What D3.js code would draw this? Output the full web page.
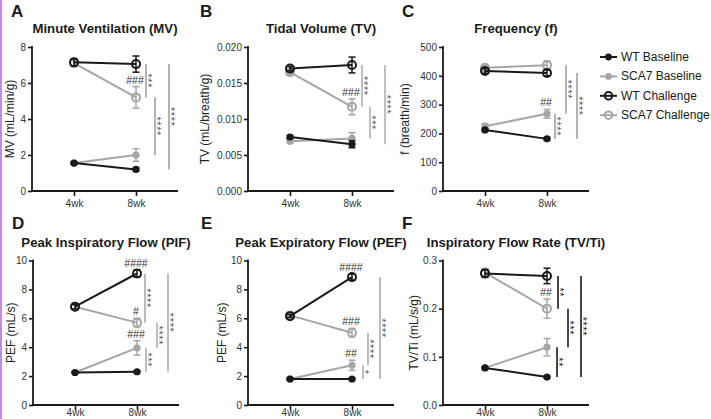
<!DOCTYPE html>
<html><head><meta charset="utf-8">
<script src="https://cdn.jsdelivr.net/npm/d3@7"></script>
<style>
body{margin:0;background:#fff;}
text{font-family:"Liberation Sans",Arial,sans-serif;}
</style></head><body>
<svg id="c" width="711" height="419"></svg>
<script>
const categories = ["4wk", "8wk"];
const seriesNames = ["WT Baseline", "SCA7 Baseline", "WT Challenge", "SCA7 Challenge"];
const seriesColors = ["#1a1a1a", "#a6a6a6", "#1a1a1a", "#a6a6a6"];
const seriesOpen = [false, false, true, true];

// A: Minute Ventilation
const mvMean = [[1.55, 1.2], [1.55, 2.0], [7.15, 7.05], [7.1, 5.2]];
const mvErr  = [[0.05, 0.08], [0.08, 0.35], [0.2, 0.45], [0.15, 0.6]];
const mvTicks = [0, 2, 4, 6, 8];
// B: Tidal Volume
const tvMean = [[0.0075, 0.0065], [0.0069, 0.0073], [0.0170, 0.0175], [0.0165, 0.0117]];
const tvErr  = [[0.0002, 0.0005], [0.0002, 0.0008], [0.0003, 0.0011], [0.0003, 0.0011]];
const tvTicks = [0, 0.005, 0.010, 0.015, 0.020];
// C: Frequency
const fMean = [[212, 181], [225, 268], [417, 410], [428, 437]];
const fErr  = [[5, 5], [8, 15], [8, 10], [8, 15]];
const fTicks = [0, 100, 200, 300, 400, 500];
// D: PIF
const pifMean = [[2.25, 2.3], [2.25, 3.95], [6.8, 9.1], [6.8, 5.7]];
const pifErr  = [[0.05, 0.08], [0.05, 0.5], [0.15, 0.25], [0.15, 0.3]];
const pifTicks = [0, 2, 4, 6, 8, 10];
// E: PEF
const pefMean = [[1.8, 1.8], [1.8, 2.75], [6.15, 8.85], [6.2, 5.0]];
const pefErr  = [[0.05, 0.05], [0.05, 0.35], [0.1, 0.2], [0.1, 0.3]];
const pefTicks = [0, 2, 4, 6, 8, 10];
// F: TV/Ti
const tvtiMean = [[0.077, 0.058], [0.077, 0.12], [0.273, 0.268], [0.275, 0.20]];
const tvtiErr  = [[0.002, 0.002], [0.002, 0.018], [0.008, 0.016], [0.008, 0.02]];
const tvtiTicks = [0, 0.1, 0.2, 0.3];

// significance brackets: [series from, series to, label] at 8wk
const mvSig   = [[2, 3, "***"], [3, 1, "****"], [2, 0, "****"]];
const tvSig   = [[2, 3, "****"], [3, 1, "***"], [2, 0, "****"]];
const fSig    = [[1, 0, "****"], [3, 1, "****"], [2, 0, "****"]];
const pifSig  = [[2, 3, "****"], [3, 1, "****"], [1, 0, "***"], [2, 0, "****"]];
const pefSig  = [[1, 0, "*"], [3, 1, "****"], [2, 0, "****"]];
const tvtiSig = [[2, 3, "**"], [3, 1, "***"], [1, 0, "**"], [2, 0, "****"]];
// hash annotations at 8wk: [series, label]
const mvHash   = [[3, "###"]];
const tvHash   = [[3, "###"]];
const fHash    = [[1, "##"]];
const pifHash  = [[2, "####"], [3, "#"], [1, "###"]];
const pefHash  = [[2, "####"], [3, "###"], [1, "##"]];
const tvtiHash = [[3, "##"]];

const svg = d3.select("#c");
svg.append("rect").attr("x", 0).attr("y", 0).attr("width", 2).attr("height", 419).attr("fill", "#c08be6");

const panels = [
  {letter: "A", title: "Minute Ventilation (MV)", ylab: "MV (mL/min/g)", mean: mvMean, err: mvErr, ticks: mvTicks, fmt: d3.format("d"), sig: mvSig, hash: mvHash,
   x0: 32, top: 47, bot: 191, lx: 11, ly: 17, ty: 33, labx: 10, xly: 9, lanes: [10, 19, 33], sigColor: "#666", sigW: 1},
  {letter: "B", title: "Tidal Volume (TV)", ylab: "TV (mL/breath/g)", mean: tvMean, err: tvErr, ticks: tvTicks, fmt: d3.format(".3f"), sig: tvSig, hash: tvHash,
   x0: 248, top: 47, bot: 191, lx: 200, ly: 17, ty: 33, labx: 205, xly: 9, lanes: [10, 18, 33], sigColor: "#808080", sigW: 1},
  {letter: "C", title: "Frequency (f)", ylab: "f (breath/min)", mean: fMean, err: fErr, ticks: fTicks, fmt: d3.format("d"), sig: fSig, hash: fHash,
   x0: 443, top: 47, bot: 191, lx: 402, ly: 17, ty: 33, labx: 405, xly: 9, lanes: [8, 19, 30], sigColor: "#666", sigW: 1},
  {letter: "D", title: "Peak Inspiratory Flow (PIF)", ylab: "PEF (mL/s)", mean: pifMean, err: pifErr, ticks: pifTicks, fmt: d3.format("d"), sig: pifSig, hash: pifHash,
   x0: 33, top: 260.5, bot: 405, lx: 12, ly: 229, ty: 247, labx: 11, xly: 4, lanes: [8, 20, 9, 31], sigColor: "#999", sigW: 1.3},
  {letter: "E", title: "Peak Expiratory Flow (PEF)", ylab: "PEF (mL/s)", mean: pefMean, err: pefErr, ticks: pefTicks, fmt: d3.format("d"), sig: pefSig, hash: pefHash,
   x0: 248, top: 260.5, bot: 405, lx: 201, ly: 229, ty: 247, labx: 222, xly: 4, lanes: [11, 16, 28], sigColor: "#999", sigW: 1.3},
  {letter: "F", title: "Inspiratory Flow Rate (TV/Ti)", ylab: "TV/Ti (mL/s/g)", mean: tvtiMean, err: tvtiErr, ticks: tvtiTicks, fmt: d3.format(".1f"), sig: tvtiSig, hash: tvtiHash,
   x0: 443, top: 260.5, bot: 405, lx: 402, ly: 229, ty: 247, labx: 414, xly: 4, lanes: [11, 21, 10, 34], sigColor: "#1a1a1a", sigW: 1.6}
];

panels.forEach(p => {
  const g = svg.append("g");
  const W = 146;
  const x = d3.scalePoint().domain(categories).range([p.x0 + 42, p.x0 + 104]);
  const y = d3.scaleLinear().domain([0, p.ticks[p.ticks.length - 1]]).range([p.bot, p.top]);

  g.append("text").attr("x", p.lx).attr("y", p.ly).attr("font-size", 17).attr("font-weight", "bold").attr("fill", "#1a1a1a").text(p.letter);
  g.append("text").attr("x", p.x0 + W / 2).attr("y", p.ty).attr("text-anchor", "middle").attr("font-size", 13.2).attr("font-weight", "bold").attr("fill", "#1a1a1a").text(p.title);
  g.append("text").attr("transform", `translate(${p.labx},${(p.top + p.bot) / 2}) rotate(-90)`).attr("text-anchor", "middle")
    .attr("dominant-baseline", "central").attr("font-size", 12).attr("fill", "#222").text(p.ylab);

  // axes
  const ya = g.append("g").attr("transform", `translate(${p.x0},0)`)
    .call(d3.axisLeft(y).tickValues(p.ticks).tickFormat(p.fmt).tickSize(4).tickSizeOuter(0));
  const xa = g.append("g").attr("transform", `translate(0,${p.bot})`)
    .call(d3.axisBottom(x).tickSize(5).tickSizeOuter(0));
  [ya, xa].forEach(a => {
    a.select(".domain").remove();
    a.selectAll("line").attr("stroke", "#1a1a1a").attr("stroke-width", 1.6);
    a.selectAll("text").attr("font-size", 10).attr("fill", "#333").attr("font-family", "Liberation Sans, Arial, sans-serif");
  });
  ya.selectAll("text").attr("x", -6);
  xa.selectAll("text").attr("y", p.xly);
  g.append("line").attr("x1", p.x0).attr("x2", p.x0).attr("y1", p.top - 1).attr("y2", p.bot).attr("stroke", "#1a1a1a").attr("stroke-width", 1.8);
  g.append("line").attr("x1", p.x0 - 1).attr("x2", p.x0 + W).attr("y1", p.bot).attr("y2", p.bot).attr("stroke", "#1a1a1a").attr("stroke-width", 1.8);

  // significance brackets
  const x8 = x("8wk");
  p.sig.forEach((s, i) => {
    const lx = x8 + p.lanes[i];
    const y1 = y(p.mean[s[0]][1]), y2 = y(p.mean[s[1]][1]);
    g.append("line").attr("x1", lx).attr("x2", lx).attr("y1", y1).attr("y2", y2).attr("stroke", p.sigColor).attr("stroke-width", p.sigW);
    g.append("text").attr("transform", `translate(${lx - 2.5},${(y1 + y2) / 2}) rotate(90)`).attr("text-anchor", "middle")
      .attr("font-size", 11).attr("letter-spacing", 0.6).attr("fill", p.sigColor === "#1a1a1a" ? "#1a1a1a" : "#555").text(s[2]);
  });

  // series: draw in order so challenge on top
  const order = [1, 0, 3, 2];
  order.forEach(si => {
    const col = seriesColors[si];
    const pts = categories.map((c, ci) => ({c, v: p.mean[si][ci], e: p.err[si][ci]}));
    g.append("path").datum(pts).attr("fill", "none").attr("stroke", col).attr("stroke-width", 2)
      .attr("d", d3.line().x(d => x(d.c)).y(d => y(d.v)));
    pts.forEach(d => {
      const cx = x(d.c);
      g.append("line").attr("x1", cx).attr("x2", cx).attr("y1", y(d.v - d.e)).attr("y2", y(d.v + d.e)).attr("stroke", col).attr("stroke-width", 1.5);
      [d.v - d.e, d.v + d.e].forEach(v => g.append("line").attr("x1", cx - 3.5).attr("x2", cx + 3.5).attr("y1", y(v)).attr("y2", y(v)).attr("stroke", col).attr("stroke-width", 1.5));
      if (seriesOpen[si]) {
        g.append("circle").attr("cx", cx).attr("cy", y(d.v)).attr("r", 4).attr("fill", "none").attr("stroke", col).attr("stroke-width", 2);
      } else {
        g.append("circle").attr("cx", cx).attr("cy", y(d.v)).attr("r", 3.6).attr("fill", col);
      }
    });
  });

  // hash annotations
  p.hash.forEach(h => {
    const top = y(p.mean[h[0]][1] + p.err[h[0]][1]);
    g.append("text").attr("x", x8 - 1).attr("y", top - 3).attr("text-anchor", "middle").attr("font-size", 10.5).attr("fill", "#333").text(h[1]);
  });
});

// legend
const leg = svg.append("g");
seriesNames.forEach((n, i) => {
  const yy = 57 + i * 19.4;
  leg.append("line").attr("x1", 600).attr("x2", 617).attr("y1", yy).attr("y2", yy).attr("stroke", seriesColors[i]).attr("stroke-width", 2);
  if (seriesOpen[i]) leg.append("circle").attr("cx", 608.5).attr("cy", yy).attr("r", 3.8).attr("fill", "none").attr("stroke", seriesColors[i]).attr("stroke-width", 2);
  else leg.append("circle").attr("cx", 608.5).attr("cy", yy).attr("r", 3.4).attr("fill", seriesColors[i]);
  leg.append("text").attr("x", 621).attr("y", yy).attr("dominant-baseline", "central").attr("font-size", 12).attr("fill", "#1a1a1a").text(n);
});
</script></body></html>
